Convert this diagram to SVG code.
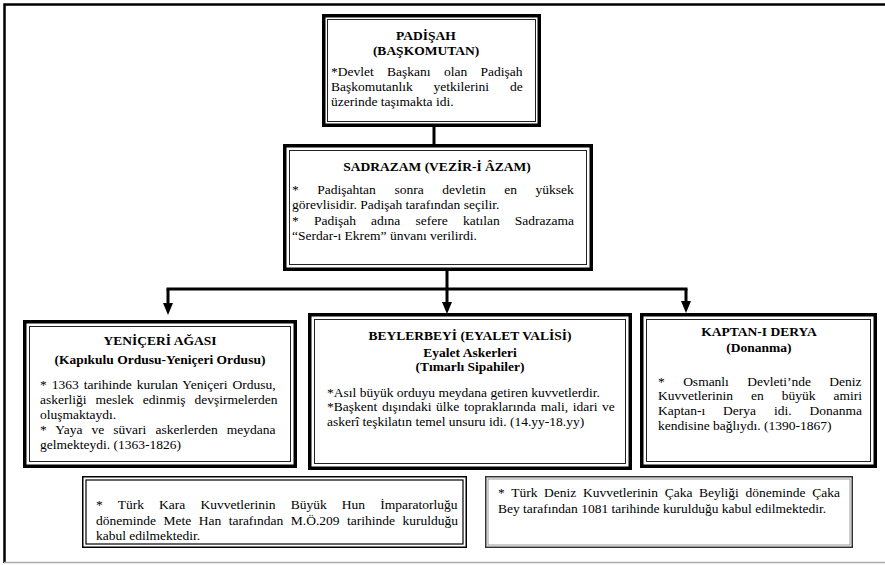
<svg xmlns="http://www.w3.org/2000/svg" width="885" height="565" viewBox="0 0 885 565">
<defs>
<style>
.o{fill:#fff;stroke:#000;stroke-width:3.5}
.i{fill:none;stroke:#222;stroke-width:1}
text{font-family:'Liberation Serif','DejaVu Serif',serif;font-size:13.5px;fill:#000}
.b{font-weight:bold;text-anchor:middle}
.c{fill:none;stroke:#000;stroke-width:3}
.d1{fill:#fff;stroke:#000;stroke-width:1.5}
.d2{fill:none;stroke:#000;stroke-width:1.2}
.s1{fill:#fff;stroke:#333;stroke-width:1.5}
.s2{fill:none;stroke:#999;stroke-width:1}
</style>
<marker id="ah" viewBox="0 0 12 10" refX="2" refY="5" markerWidth="12" markerHeight="10" markerUnits="userSpaceOnUse" orient="auto">
<path d="M0,0 L12,5 L0,10 Z" fill="#000"/>
</marker>
</defs>
<rect width="885" height="565" fill="#fff"/>
<g id="frame">
<path d="M4.5,563 L4.5,4.5 L885,4.5" fill="none" stroke="#000" stroke-width="2.5"/>
<line x1="4" y1="562.5" x2="885" y2="562.5" stroke="#aaa" stroke-width="1.5"/>
</g>
<g id="connectors">
<line class="c" x1="434" y1="126" x2="434" y2="145"/>
<line class="c" x1="447" y1="270" x2="447" y2="289"/>
<line class="c" x1="166.5" y1="289" x2="687.5" y2="289"/>
<line class="c" x1="168" y1="289" x2="168" y2="305" marker-end="url(#ah)"/>
<line class="c" x1="447" y1="289" x2="447" y2="304" marker-end="url(#ah)"/>
<line class="c" x1="686" y1="289" x2="686" y2="303" marker-end="url(#ah)"/>
</g>
<g id="padisah">
<rect class="o" x="323.75" y="15.75" width="215.5" height="109.5"/>
<rect class="i" x="327.5" y="19.5" width="208" height="102"/>
<text class="b" x="426" y="40">PADİŞAH</text>
<text class="b" x="426" y="55">(BAŞKOMUTAN)</text>
<text x="331" y="76" style="word-spacing:10px">*Devlet Başkanı olan Padişah</text>
<text x="331" y="91" style="word-spacing:17.5px">Başkomutanlık yetkilerini de</text>
<text x="331" y="106">üzerinde taşımakta idi.</text>
</g>
<g id="sadrazam">
<rect class="o" x="284.75" y="145.75" width="306.5" height="123.5"/>
<rect class="i" x="289.5" y="150.5" width="297" height="114"/>
<text class="b" x="437" y="171">SADRAZAM (VEZİR-İ ÂZAM)</text>
<text x="292" y="194" style="word-spacing:15.2px">* Padişahtan sonra devletin en yüksek</text>
<text x="292" y="209">görevlisidir. Padişah tarafından seçilir.</text>
<text x="292" y="224.5" style="word-spacing:11.8px">* Padişah adına sefere katılan Sadrazama</text>
<text x="292" y="240">“Serdar-ı Ekrem” ünvanı verilirdi.</text>
</g>
<g id="yeniceri">
<rect class="o" x="24.75" y="321.75" width="270.5" height="144.5"/>
<rect class="i" x="29.5" y="326.5" width="261" height="135"/>
<text class="b" x="160" y="345">YENİÇERİ AĞASI</text>
<text class="b" x="160" y="364">(Kapıkulu Ordusu-Yeniçeri Ordusu)</text>
<text x="40" y="389" style="word-spacing:1.6px">* 1363 tarihinde kurulan Yeniçeri Ordusu,</text>
<text x="40" y="404" style="word-spacing:5.6px">askerliği meslek edinmiş devşirmelerden</text>
<text x="40" y="419">oluşmaktaydı.</text>
<text x="40" y="434" style="word-spacing:5.7px">* Yaya ve süvari askerlerden meydana</text>
<text x="40" y="449">gelmekteydi. (1363-1826)</text>
</g>
<g id="beylerbeyi">
<rect class="o" x="309.75" y="314.75" width="320.5" height="153.5"/>
<rect class="i" x="314.5" y="319.5" width="311" height="144"/>
<text class="b" x="470" y="340">BEYLERBEYİ (EYALET VALİSİ)</text>
<text class="b" x="470" y="357">Eyalet Askerleri</text>
<text class="b" x="470" y="371">(Tımarlı Sipahiler)</text>
<text x="327" y="397">*Asıl büyük orduyu meydana getiren kuvvetlerdir.</text>
<text x="327" y="411" style="word-spacing:1.3px">*Başkent dışındaki ülke topraklarında mali, idari ve</text>
<text x="327" y="426">askerî teşkilatın temel unsuru idi. (14.yy-18.yy)</text>
</g>
<g id="kaptan">
<rect class="o" x="641.75" y="314.75" width="233.5" height="151.5"/>
<rect class="i" x="646.5" y="319.5" width="224" height="142"/>
<text class="b" x="759" y="336">KAPTAN-I DERYA</text>
<text class="b" x="759" y="352">(Donanma)</text>
<text x="658" y="386" style="word-spacing:15px">* Osmanlı Devleti’nde Deniz</text>
<text x="658" y="400" style="word-spacing:14.6px">Kuvvetlerinin en büyük amiri</text>
<text x="658" y="415" style="word-spacing:14.5px">Kaptan-ı Derya idi. Donanma</text>
<text x="658" y="430">kendisine bağlıydı. (1390-1867)</text>
</g>
<g id="not-kara">
<rect class="d1" x="82.75" y="476.75" width="383.5" height="70.5"/>
<rect class="d2" x="86" y="480" width="377" height="64"/>
<text x="96" y="509" style="word-spacing:11.8px">* Türk Kara Kuvvetlerinin Büyük Hun İmparatorluğu</text>
<text x="96" y="525" style="word-spacing:4.1px">döneminde Mete Han tarafından M.Ö.209 tarihinde kurulduğu</text>
<text x="96" y="540">kabul edilmektedir.</text>
</g>
<g id="not-deniz">
<rect class="s1" x="485.75" y="476.75" width="366.5" height="70.5"/>
<rect class="s2" x="488" y="479" width="362" height="66"/>
<text x="498" y="497" style="word-spacing:3.3px">* Türk Deniz Kuvvetlerinin Çaka Beyliği döneminde Çaka</text>
<text x="498" y="513">Bey tarafından 1081 tarihinde kurulduğu kabul edilmektedir.</text>
</g>
</svg>
